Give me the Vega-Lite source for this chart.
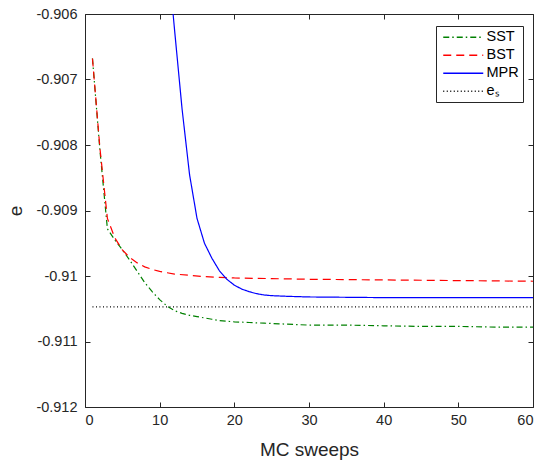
{
  "$schema": "https://vega.github.io/schema/vega-lite/v6.json",
  "width": 448,
  "height": 393,
  "autosize": {"type": "none"},
  "padding": {"left": 85, "top": 14, "right": 12, "bottom": 56},
  "background": "white",
  "config": {
    "view": {"stroke": null},
    "font": "Liberation Sans",
    "axis": {
      "grid": false,
      "domainColor": "#262626",
      "domainWidth": 1,
      "tickColor": "#262626",
      "tickSize": 5,
      "tickWidth": 1,
      "labelColor": "#262626",
      "labelFont": "Liberation Sans",
      "labelFontSize": 14.5,
      "titleColor": "#262626",
      "titleFont": "Liberation Sans",
      "titleFontSize": 19,
      "titleFontWeight": "normal"
    }
  },
  "resolve": {"axis": {"x": "independent", "y": "independent"}},
  "data": {
    "values": [
      {"s": "SST", "x": 1, "e": -0.90668},
      {"s": "SST", "x": 2, "e": -0.90808},
      {"s": "SST", "x": 3, "e": -0.90928},
      {"s": "SST", "x": 4, "e": -0.90945},
      {"s": "SST", "x": 5, "e": -0.9096},
      {"s": "SST", "x": 6, "e": -0.90976},
      {"s": "SST", "x": 7, "e": -0.90993},
      {"s": "SST", "x": 8, "e": -0.9101},
      {"s": "SST", "x": 9, "e": -0.91024},
      {"s": "SST", "x": 10, "e": -0.91036},
      {"s": "SST", "x": 11, "e": -0.91046},
      {"s": "SST", "x": 12, "e": -0.91053},
      {"s": "SST", "x": 13, "e": -0.91057},
      {"s": "SST", "x": 14, "e": -0.9106},
      {"s": "SST", "x": 15, "e": -0.91062},
      {"s": "SST", "x": 16, "e": -0.91064},
      {"s": "SST", "x": 17, "e": -0.91066},
      {"s": "SST", "x": 18, "e": -0.91068},
      {"s": "SST", "x": 19, "e": -0.91069},
      {"s": "SST", "x": 20, "e": -0.9107},
      {"s": "SST", "x": 22, "e": -0.91071},
      {"s": "SST", "x": 24, "e": -0.91072},
      {"s": "SST", "x": 26, "e": -0.91073},
      {"s": "SST", "x": 28, "e": -0.91074},
      {"s": "SST", "x": 30, "e": -0.91075},
      {"s": "SST", "x": 35, "e": -0.91075},
      {"s": "SST", "x": 40, "e": -0.91076},
      {"s": "SST", "x": 45, "e": -0.91077},
      {"s": "SST", "x": 50, "e": -0.91077},
      {"s": "SST", "x": 55, "e": -0.91078},
      {"s": "SST", "x": 60, "e": -0.91078},
      {"s": "BST", "x": 1, "e": -0.90668},
      {"s": "BST", "x": 2, "e": -0.90805},
      {"s": "BST", "x": 3, "e": -0.90912},
      {"s": "BST", "x": 4, "e": -0.90942},
      {"s": "BST", "x": 5, "e": -0.9096},
      {"s": "BST", "x": 6, "e": -0.90972},
      {"s": "BST", "x": 7, "e": -0.9098},
      {"s": "BST", "x": 8, "e": -0.90986},
      {"s": "BST", "x": 9, "e": -0.9099},
      {"s": "BST", "x": 10, "e": -0.90993},
      {"s": "BST", "x": 11, "e": -0.90995},
      {"s": "BST", "x": 12, "e": -0.90997},
      {"s": "BST", "x": 14, "e": -0.90999},
      {"s": "BST", "x": 16, "e": -0.91001},
      {"s": "BST", "x": 18, "e": -0.91002},
      {"s": "BST", "x": 20, "e": -0.91003},
      {"s": "BST", "x": 25, "e": -0.91004},
      {"s": "BST", "x": 30, "e": -0.91005},
      {"s": "BST", "x": 40, "e": -0.91006},
      {"s": "BST", "x": 50, "e": -0.91007},
      {"s": "BST", "x": 60, "e": -0.91008},
      {"s": "MPR", "x": 11, "e": -0.905},
      {"s": "MPR", "x": 12, "e": -0.90625},
      {"s": "MPR", "x": 13, "e": -0.90745},
      {"s": "MPR", "x": 14, "e": -0.90845},
      {"s": "MPR", "x": 15, "e": -0.90912},
      {"s": "MPR", "x": 16, "e": -0.9095},
      {"s": "MPR", "x": 17, "e": -0.90973},
      {"s": "MPR", "x": 18, "e": -0.90992},
      {"s": "MPR", "x": 19, "e": -0.91005},
      {"s": "MPR", "x": 20, "e": -0.91014},
      {"s": "MPR", "x": 21, "e": -0.9102},
      {"s": "MPR", "x": 22, "e": -0.91024},
      {"s": "MPR", "x": 23, "e": -0.91027},
      {"s": "MPR", "x": 24, "e": -0.91029},
      {"s": "MPR", "x": 25, "e": -0.9103},
      {"s": "MPR", "x": 27, "e": -0.91031},
      {"s": "MPR", "x": 30, "e": -0.91032},
      {"s": "MPR", "x": 40, "e": -0.91033},
      {"s": "MPR", "x": 50, "e": -0.91033},
      {"s": "MPR", "x": 60, "e": -0.91033},
      {"s": "eₛ", "x": 1, "e": -0.91047},
      {"s": "eₛ", "x": 60, "e": -0.91047}
    ]
  },
  "layer": [
    {
      "mark": {"type": "line", "clip": true, "strokeWidth": 1.2},
      "encoding": {
        "x": {
          "field": "x",
          "type": "quantitative",
          "scale": {"domain": [0, 60], "nice": false, "zero": false},
          "axis": {
            "orient": "bottom",
            "values": [0, 10, 20, 30, 40, 50, 60],
            "ticks": false,
            "labelPadding": 6,
            "title": "MC sweeps",
            "titlePadding": 14
          }
        },
        "y": {
          "field": "e",
          "type": "quantitative",
          "scale": {"domain": [-0.912, -0.906], "nice": false, "zero": false},
          "axis": {
            "orient": "left",
            "values": [-0.912, -0.911, -0.91, -0.909, -0.908, -0.907, -0.906],
            "labelExpr": "replace(format(datum.value, '.3~f'), '\u2212', '-')",
            "ticks": false,
            "labelPadding": 8,
            "title": "e",
            "titlePadding": 10
          }
        },
        "color": {
          "field": "s",
          "type": "nominal",
          "scale": {
            "domain": ["SST", "BST", "MPR", "eₛ"],
            "range": ["#008000", "#ff0000", "#0000ff", "#000000"]
          },
          "legend": {
            "title": null,
            "orient": "none",
            "legendX": 351,
            "legendY": 12,
            "strokeColor": "#262626",
            "fillColor": "white",
            "padding": 4,
            "rowPadding": 3,
            "symbolType": "M-1,0H9",
            "symbolSize": 64,
            "symbolStrokeWidth": 1.5,
            "labelFontSize": 14.5,
            "labelColor": "#000000",
            "labelFont": "Liberation Sans",
            "labelOffset": 32
          }
        },
        "strokeDash": {
          "field": "s",
          "type": "nominal",
          "scale": {
            "domain": ["SST", "BST", "MPR", "eₛ"],
            "range": [[6, 3, 1.5, 3], [8, 5], [1, 0], [1, 2.5]]
          },
          "legend": {
            "title": null,
            "orient": "none",
            "legendX": 351,
            "legendY": 12,
            "strokeColor": "#262626",
            "fillColor": "white",
            "padding": 4,
            "rowPadding": 3,
            "symbolType": "M-1,0H9",
            "symbolSize": 64,
            "symbolStrokeWidth": 1.5,
            "labelFontSize": 14.5,
            "labelColor": "#000000",
            "labelFont": "Liberation Sans",
            "labelOffset": 32
          }
        }
      }
    },
    {
      "mark": {"type": "line", "opacity": 0},
      "encoding": {
        "x": {
          "field": "x",
          "type": "quantitative",
          "axis": {"orient": "top", "offset": -393, "values": [0, 10, 20, 30, 40, 50, 60], "domain": false, "labels": false, "title": null}
        },
        "y": {
          "field": "e",
          "type": "quantitative",
          "axis": {"orient": "right", "offset": -448, "values": [-0.912, -0.911, -0.91, -0.909, -0.908, -0.907, -0.906], "domain": false, "labels": false, "title": null}
        },
        "detail": {"field": "s", "type": "nominal"}
      }
    },
    {
      "mark": {"type": "line", "opacity": 0},
      "encoding": {
        "x": {
          "field": "x",
          "type": "quantitative",
          "axis": {"orient": "bottom", "offset": -393, "values": [0, 10, 20, 30, 40, 50, 60], "labels": false, "title": null}
        },
        "y": {
          "field": "e",
          "type": "quantitative",
          "axis": {"orient": "left", "offset": -448, "values": [-0.912, -0.911, -0.91, -0.909, -0.908, -0.907, -0.906], "labels": false, "title": null}
        },
        "detail": {"field": "s", "type": "nominal"}
      }
    }
  ]
}
